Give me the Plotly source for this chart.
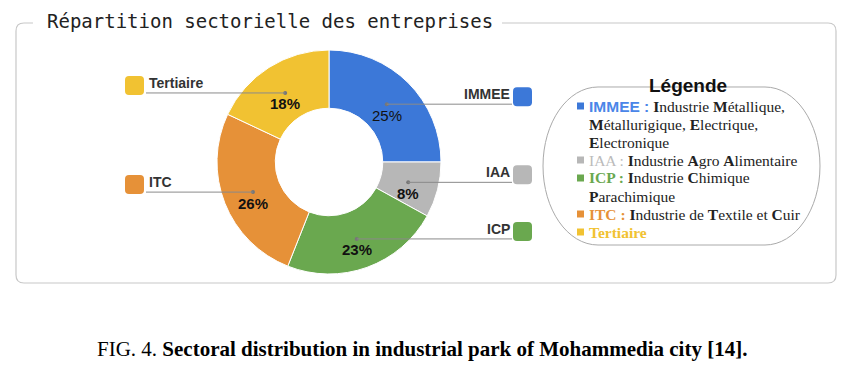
import math
import plotly.graph_objects as go

# ---------------- data ----------------
categories = ["IMMEE", "IAA", "ICP", "ITC", "Tertiaire"]
shares = [25, 8, 23, 26, 18]
colors = ["#3C78D8", "#B7B7B7", "#6AA84F", "#E69138", "#F1C232"]
percent_bold = [False, True, True, True, True]

title_text = "Répartition sectorielle des entreprises"
legend_title = "Légende"
legend_lines = [
    "<span style='font-family:Liberation Sans'><b><span style='color:#4A86E8'>IMMEE :</span></b></span> <b>I</b>ndustrie <b>M</b>étallique,",
    "<b>M</b>étallurigique, <b>E</b>lectrique,",
    "<b>E</b>lectronique",
    "<span style='color:#BBBBBB'>IAA :</span> <b>I</b>ndustrie <b>A</b>gro <b>A</b>limentaire",
    "<b><span style='color:#6AA84F'>ICP :</span></b> <b>I</b>ndustrie <b>C</b>himique",
    "<b>P</b>arachimique",
    "<b><span style='color:#E69138'>ITC :</span></b> <b>I</b>ndustrie de <b>T</b>extile et <b>C</b>uir",
    "<b><span style='color:#F1C232'>Tertiaire</span></b>",
]
legend_marker_line = {"IMMEE": 0, "IAA": 3, "ICP": 4, "ITC": 6, "Tertiaire": 7}
caption_text = "FIG. 4. <b>Sectoral distribution in industrial park of Mohammedia city [14].</b>"

# ---------------- layout geometry (pixels) ----------------
W, H = 867, 369
CX, CY, R = 329, 162, 112
HOLE = 0.48
DOT_R = 0.73 * R


def px(x):
    return x / W


def py(y):
    return 1 - y / H


fig = go.Figure(
    go.Pie(
        labels=categories,
        values=shares,
        hole=HOLE,
        sort=False,
        direction="clockwise",
        rotation=0,
        marker=dict(colors=colors, line=dict(color="white", width=1)),
        textinfo="none",
        hoverinfo="label+percent",
        showlegend=False,
        domain=dict(x=[px(CX - R), px(CX + R)], y=[py(CY + R), py(CY - R)]),
    )
)

shapes = []
annotations = []


def to_path(pts):
    out = []
    for p in pts:
        cmd = p[0]
        coords = p[1:]
        s = []
        for i in range(0, len(coords), 2):
            s.append(f"{px(coords[i]):.5f},{py(coords[i+1]):.5f}")
        out.append(cmd + " " + " ".join(s))
    return " ".join(out)


def rounded_rect(x0, y0, x1, y1, r):
    return to_path([
        ("M", x0 + r, y0), ("L", x1 - r, y0), ("Q", x1, y0, x1, y0 + r),
        ("L", x1, y1 - r), ("Q", x1, y1, x1 - r, y1),
        ("L", x0 + r, y1), ("Q", x0, y1, x0, y1 - r),
        ("L", x0, y0 + r), ("Q", x0, y0, x0 + r, y0),
    ]) + " Z"


# outer frame with gap for title
fx0, fy0, fx1, fy1, fr = 16, 23, 836, 283, 8
pts = [
    ("M", 33, fy0), ("L", fx0 + fr, fy0), ("Q", fx0, fy0, fx0, fy0 + fr),
    ("L", fx0, fy1 - fr), ("Q", fx0, fy1, fx0 + fr, fy1),
    ("L", fx1 - fr, fy1), ("Q", fx1, fy1, fx1, fy1 - fr),
    ("L", fx1, fy0 + fr), ("Q", fx1, fy0, fx1 - fr, fy0),
    ("L", 502, fy0),
]
shapes.append(dict(type="path", xref="paper", yref="paper", path=to_path(pts),
                   line=dict(color="#C8C8C8", width=1.2)))

annotations.append(dict(x=px(45), y=py(21), xref="paper", yref="paper", xanchor="left",
                        yanchor="middle", showarrow=False, text=title_text,
                        font=dict(family="DejaVu Sans Mono", size=19, color="#222222")))

# legend pill box
lx0, ly0, lx1, ly1 = 543, 87, 820, 245
rx, ry = 55, (ly1 - ly0) / 2
k = 0.5523
lp = [
    ("M", lx0 + rx, ly0), ("L", lx1 - rx, ly0),
    ("C", lx1 - rx + k * rx, ly0, lx1, ly0 + ry - k * ry, lx1, ly0 + ry),
    ("C", lx1, ly0 + ry + k * ry, lx1 - rx + k * rx, ly1, lx1 - rx, ly1),
    ("L", lx0 + rx, ly1),
    ("C", lx0 + rx - k * rx, ly1, lx0, ly1 - ry + k * ry, lx0, ly1 - ry),
    ("C", lx0, ly0 + ry - k * ry, lx0 + rx - k * rx, ly0, lx0 + rx, ly0),
]
shapes.append(dict(type="path", xref="paper", yref="paper", path=to_path(lp) + " Z",
                   line=dict(color="#AAAAAA", width=1)))
annotations.append(dict(x=px(688), y=py(85), xref="paper", yref="paper", xanchor="center",
                        yanchor="middle", showarrow=False, text="<b>" + legend_title + "</b>",
                        font=dict(family="Liberation Sans", size=19, color="#111111")))
LINE0, LSTEP = 106, 18
for i, line in enumerate(legend_lines):
    annotations.append(dict(x=px(587), y=py(LINE0 + i * LSTEP), xref="paper", yref="paper",
                            xanchor="left", yanchor="middle", showarrow=False, text=line,
                            font=dict(family="Liberation Serif", size=15.5, color="#222222")))
for cat, col in zip(categories, colors):
    yy = LINE0 + legend_marker_line[cat] * LSTEP
    shapes.append(dict(type="rect", xref="paper", yref="paper", x0=px(577), x1=px(584),
                       y0=py(yy - 3.5), y1=py(yy + 3.5), fillcolor=col, line=dict(width=0)))

# slice labels, leader lines, dots and percentages (derived from data)
total = sum(shares)
cum = 0
for cat, v, col, bold in zip(categories, shares, colors, percent_bold):
    mid = math.radians(90 - (cum + v / 2) / total * 360)
    cum += v
    dx = CX + DOT_R * math.cos(mid)
    dy = CY - DOT_R * math.sin(mid)
    pct = f"{round(v / total * 100)}%"
    annotations.append(dict(x=px(dx), y=py(dy + 11), xref="paper", yref="paper",
                            xanchor="center", yanchor="middle", showarrow=False,
                            text=f"<b>{pct}</b>" if bold else pct,
                            font=dict(family="Liberation Sans", size=15, color="#111111")))
    shapes.append(dict(type="circle", xref="paper", yref="paper", x0=px(dx - 2), x1=px(dx + 2),
                       y0=py(dy + 2), y1=py(dy - 2), fillcolor="#777777", line=dict(width=0)))
    left = math.cos(mid) < 0
    if left:
        sx0, sx1, lx_start, tx, anc = 125, 144, 146, 147, "left"
    else:
        sx0, sx1, lx_start, tx, anc = 513, 532, 512, 512, "right"
    shapes.append(dict(type="line", xref="paper", yref="paper", x0=px(lx_start), x1=px(dx),
                       y0=py(dy), y1=py(dy), line=dict(color="#8A8A8A", width=1)))
    shapes.append(dict(type="path", xref="paper", yref="paper",
                       path=rounded_rect(sx0, dy - 17, sx1, dy + 2, 4),
                       fillcolor=col, line=dict(width=0), layer="below"))
    annotations.append(dict(x=px(tx), y=py(dy - 10), xref="paper", yref="paper",
                            xanchor=anc, yanchor="middle", showarrow=False,
                            text=f"<b>{cat}</b>",
                            font=dict(family="Liberation Sans", size=14, color="#333333")))

annotations.append(dict(x=px(95), y=py(349), xref="paper", yref="paper", xanchor="left",
                        yanchor="middle", showarrow=False, text=caption_text,
                        font=dict(family="Liberation Serif", size=21, color="#000000")))

fig.update_layout(
    width=W, height=H,
    margin=dict(l=0, r=0, t=0, b=0),
    paper_bgcolor="white", plot_bgcolor="white",
    shapes=shapes, annotations=annotations,
)

fig.write_html("out.html", config={"displayModeBar": False},
               post_script="document.body.style.margin='0px';")
